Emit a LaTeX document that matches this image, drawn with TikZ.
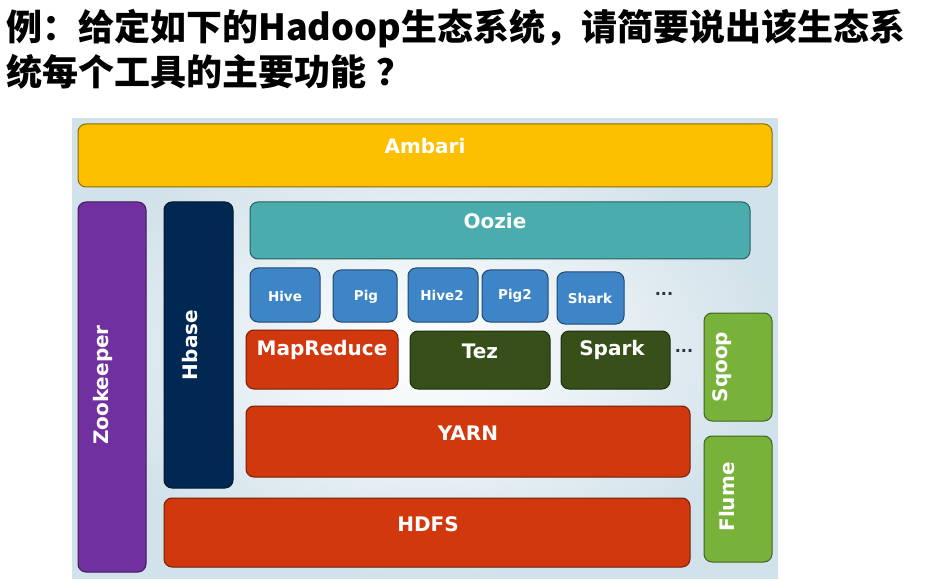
\documentclass[tikz,border=0pt]{standalone}
\usepackage{fontspec}
\setmainfont{DejaVu Sans}
\newfontfamily\cjk{Noto Sans CJK SC}
\newfontfamily\lblfont{DejaVu Sans}
\definecolor{cAmbari}{RGB}{252,192,0}
\definecolor{cZoo}{RGB}{112,48,160}
\definecolor{cHbase}{RGB}{0,40,82}
\definecolor{cOozie}{RGB}{75,172,173}
\definecolor{cHive}{RGB}{61,133,198}
\definecolor{cRed}{RGB}{209,56,14}
\definecolor{cTez}{RGB}{55,80,25}
\definecolor{cGreen}{RGB}{120,178,58}
\definecolor{cBgOut}{RGB}{210,226,234}
\definecolor{cDots}{RGB}{40,50,60}
\tikzset{
  box/.style={draw=#1!55!black, fill=#1, line width=1pt, rounded corners=8pt,
    inner sep=0pt, outer sep=0pt},
  lbl/.style={text=white, font=\lblfont\bfseries\fontsize{20}{22}\selectfont, inner sep=0pt},
  slbl/.style={text=white, font=\lblfont\bfseries\fontsize{13.5}{15}\selectfont, inner sep=0pt},
  vlbl/.style={lbl, rotate=90},
  dots/.style={text=cDots, font=\lblfont\bfseries\fontsize{16}{17}\selectfont, inner sep=0pt},
  title/.style={anchor=west, inner sep=0pt, font=\cjk\bfseries\fontsize{36}{39}\selectfont}
}
\begin{document}
\begin{tikzpicture}[x=1pt,y=-1pt]
\useasboundingbox (0,0) rectangle (940,588);
\fill[white] (0,0) rectangle (940,588);
% title
\node[title] (t1) at (6,29) {例：给定如下的Hadoop生态系统，请简要说出该生态系};
\node[title] (t2) at (6,72) {统每个工具的主要功能\hspace{10pt}？};
% background panel
\shade[inner color=white, outer color=cBgOut] (72,119) rectangle (778,578);
% boxes
\node[box=cAmbari, minimum width=694pt, minimum height=63pt] (ambari) at (425,155.5) {};
\node[lbl] (ambari-t) at (425,146) {Ambari};
\node[box=cZoo, minimum width=68pt, minimum height=370pt] (zoo) at (112,387) {};
\node[vlbl] (zoo-t) at (103,385) {Zookeeper};
\node[box=cHbase, minimum width=69pt, minimum height=286pt] (hbase) at (198.5,345) {};
\node[vlbl] (hbase-t) at (190,345) {Hbase};
\node[box=cOozie, minimum width=500pt, minimum height=57pt] (oozie) at (500,230.5) {};
\node[lbl] (oozie-t) at (495,221) {Oozie};
\node[box=cHive, minimum width=70pt, minimum height=54pt] (hive) at (285,295) {};
\node[slbl] (hive-t) at (285,296) {Hive};
\node[box=cHive, minimum width=64pt, minimum height=52pt] (pig) at (365,296) {};
\node[slbl] (pig-t) at (366,297) {Pig};
\node[box=cHive, minimum width=70pt, minimum height=54pt] (hive2) at (443,295) {};
\node[slbl] (hive2-t) at (442,295) {Hive2};
\node[box=cHive, minimum width=66pt, minimum height=52pt] (pig2) at (515,296) {};
\node[slbl] (pig2-t) at (515,296) {Pig2};
\node[box=cHive, minimum width=67pt, minimum height=52pt] (shark) at (590.5,298) {};
\node[slbl] (shark-t) at (590,298) {Shark};
\node[dots] (dots1) at (664,294) {...};
\node[box=cRed, minimum width=152pt, minimum height=59pt] (mr) at (322,359.5) {};
\node[lbl] (mr-t) at (322,350) {MapReduce};
\node[box=cTez, minimum width=140pt, minimum height=58pt] (tez) at (480,360) {};
\node[lbl] (tez-t) at (480,351) {Tez};
\node[box=cTez, minimum width=109pt, minimum height=58pt] (spark) at (615.5,360) {};
\node[lbl] (spark-t) at (612,350) {Spark};
\node[dots] (dots2) at (684,351) {...};
\node[box=cGreen, minimum width=68pt, minimum height=108pt] (sqoop) at (738,367) {};
\node[vlbl] (sqoop-t) at (722,367) {Sqoop};
\node[box=cRed, minimum width=444pt, minimum height=71pt] (yarn) at (468,441.5) {};
\node[lbl] (yarn-t) at (468,433) {YARN};
\node[box=cGreen, minimum width=68pt, minimum height=126pt] (flume) at (738,499) {};
\node[vlbl] (flume-t) at (727,497) {Flume};
\node[box=cRed, minimum width=526pt, minimum height=69pt] (hdfs) at (427,532.5) {};
\node[lbl] (hdfs-t) at (428,524) {HDFS};
\end{tikzpicture}
\end{document}
